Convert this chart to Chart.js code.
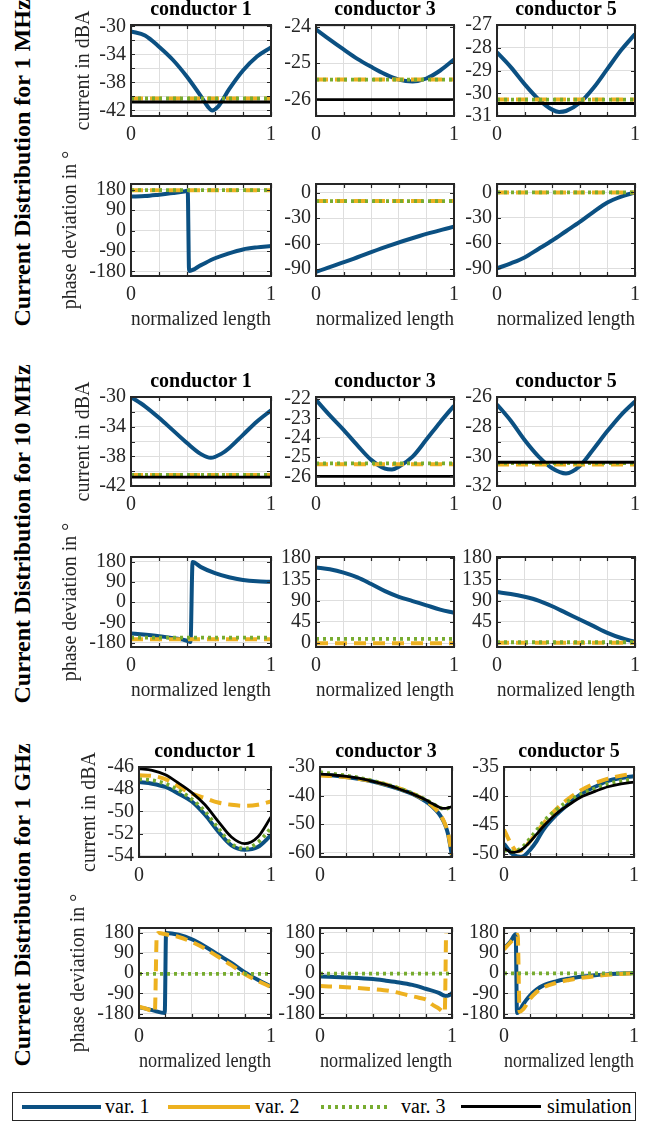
<!DOCTYPE html>
<html>
<head>
<meta charset="utf-8">
<script src="https://cdn.jsdelivr.net/npm/chart.js@4.4.1/dist/chart.umd.min.js"></script>
<style>
  body { margin: 0; width: 670px; height: 1122px; position: relative; overflow: hidden; background: #fff;
         font-family: 'Liberation Serif', 'Times New Roman', serif; color: #262626; }
  canvas { position: absolute; }
  .group-title { position: absolute; font-size: 24px; font-weight: bold; color: #000; white-space: nowrap;
                 transform: translate(-50%, -50%) rotate(-90deg); }
  #legend { position: absolute; left: 12px; top: 1092px; width: 622px; height: 27px; border: 1px solid #262626; }
  #legend .ln { position: absolute; top: 12px; height: 4px; }
  #legend .tx { position: absolute; top: 1px; font-size: 20px; line-height: 24px; color: #000; }
</style>
</head>
<body>

<div class="group-title" style="left:22px; top:163px;">Current Distribution for 1 MHz</div>
<div class="group-title" style="left:22px; top:534px;">Current Distribution for 10 MHz</div>
<div class="group-title" style="left:22px; top:905px;">Current Distribution for 1 GHz</div>

<div id="legend">
  <div class="ln" style="left:9px; width:79px; background:#0b5082;"></div>
  <div class="tx" style="left:92px;">var. 1</div>
  <div class="ln" style="left:155px; width:82px; background:#edb120;"></div>
  <div class="tx" style="left:242px;">var. 2</div>
  <div class="ln" style="left:308px; width:70px; background:repeating-linear-gradient(90deg,#77ac30 0 3px,transparent 3px 7px);"></div>
  <div class="tx" style="left:388px;">var. 3</div>
  <div class="ln" style="left:448px; width:80px; height:3px; background:#000;"></div>
  <div class="tx" style="left:534px;">simulation</div>
</div>

<script>
// normalized length samples shared by most curves
const xs = [0, 0.1, 0.2, 0.3, 0.4, 0.5, 0.6, 0.7, 0.8, 0.9, 1];
const xFlat = [0, 1];
const xTicks = [0, 0.2, 0.4, 0.6, 0.8, 1];
const xTickLabels = [0, 1];

// ---------- 1 MHz ----------
const f1c1MagX = [0, .1, .2, .3, .4, .5, .55, .58, .62, .7, .8, .9, 1];
const f1c1MagVar1 = [-30.7, -31.3, -32.9, -34.8, -37.2, -40.0, -41.5, -42.0, -41.5, -39.0, -36.3, -34.3, -33.0];
const f1c1MagVar2 = [-40.3, -40.3];
const f1c1MagVar3 = [-40.3, -40.3];
const f1c1MagSim = [-40.8, -40.8];

const f1c3MagVar1 = [-24.07, -24.35, -24.62, -24.88, -25.1, -25.3, -25.45, -25.5, -25.42, -25.2, -24.9];
const f1c3MagVar2 = [-25.45, -25.45];
const f1c3MagVar3 = [-25.45, -25.45];
const f1c3MagSim = [-26.0, -26.0];

const f1c5MagX = [0, .1, .2, .3, .4, .45, .5, .6, .7, .8, .9, 1];
const f1c5MagVar1 = [-28.2, -28.85, -29.6, -30.26, -30.72, -30.82, -30.78, -30.42, -29.76, -28.93, -28.1, -27.4];
const f1c5MagVar2 = [-30.28, -30.28];
const f1c5MagVar3 = [-30.28, -30.28];
const f1c5MagSim = [-30.45, -30.45];

const f1c1PhX = [0, .1, .2, .3, .38, .405, .415, .5, .6, .7, .8, .9, 1];
const f1c1PhVar1 = [150, 152, 158, 165, 172, 176, -178, -152, -122, -100, -83, -74, -68];
const f1c1PhVar2 = [178, 178];
const f1c1PhVar3 = [178, 178];

const f1c3PhX = [0, .25, .5, .75, 1];
const f1c3PhVar1 = [-93, -79, -64, -51, -40];
const f1c3PhVar2 = [-10, -10];
const f1c3PhVar3 = [-10, -10];

const f1c5PhVar1 = [-90, -84, -77, -67, -57, -46, -35, -23, -12, -5, 0];
const f1c5PhVar2 = [0, 0];
const f1c5PhVar3 = [0, 0];

// ---------- 10 MHz ----------
const f2c1MagX = [0, .1, .2, .3, .4, .5, .57, .65, .7, .8, .9, 1];
const f2c1MagVar1 = [-30.0, -31.25, -32.8, -34.5, -36.2, -37.7, -38.2, -37.6, -36.9, -35.1, -33.3, -31.8];
const f2c1MagVar2 = [-40.5, -40.5];
const f2c1MagVar3 = [-40.5, -40.5];
const f2c1MagSim = [-40.8, -40.8];

const f2c3MagX = [0, .1, .2, .3, .4, .5, .55, .6, .7, .8, .9, 1];
const f2c3MagVar1 = [-22.05, -22.85, -23.6, -24.4, -25.15, -25.6, -25.65, -25.5, -24.98, -24.1, -23.2, -22.35];
const f2c3MagVar2 = [-25.38, -25.38];
const f2c3MagVar3 = [-25.33, -25.33];
const f2c3MagSim = [-26.0, -26.0];

const f2c5MagVar1 = [-26.5, -27.6, -28.9, -30.0, -30.8, -31.15, -30.65, -29.5, -28.3, -27.2, -26.3];
const f2c5MagVar2 = [-30.55, -30.55];
const f2c5MagVar3 = [-30.45, -30.45];
const f2c5MagSim = [-30.4, -30.4];

const f2c1PhX = [0, .2, .4, .425, .44, .5, .6, .7, .8, .9, 1];
const f2c1PhVar1 = [-140, -152, -172, -178, 178, 155, 128, 110, 98, 92, 90];
const f2c1PhVar2 = [-165, -165];
const f2c1PhVar3 = [-158, -158];

const f2c3PhVar1 = [160, 156, 149, 139, 125, 110, 98, 89, 80, 71, 64];
const f2c3PhVar2 = [0, 0];
const f2c3PhVar3 = [9, 9];

const f2c5PhVar1 = [108, 104, 98, 90, 78, 64, 50, 36, 22, 11, 3];
const f2c5PhVar2 = [1, 1];
const f2c5PhVar3 = [2, 2];

// ---------- 1 GHz ----------
const f3c1MagVar1 = [-47.35, -47.5, -47.8, -48.4, -49.1, -50.3, -51.8, -53.05, -53.45, -53.2, -52.15];
const f3c1MagVar2 = [-46.75, -46.8, -47.1, -47.75, -48.4, -48.8, -49.2, -49.4, -49.5, -49.4, -49.1];
const f3c1MagVar3 = [-47.1, -47.2, -47.5, -48.1, -48.9, -50.0, -51.5, -52.9, -53.35, -52.8, -51.5];
const f3c1MagSim = [-46.15, -46.3, -46.7, -47.45, -48.3, -49.4, -50.9, -52.3, -52.9, -52.3, -50.5];

const f3c3MagX = [0, .1, .2, .3, .4, .5, .6, .7, .8, .85, .9, .93, .95, .97, .99, 1];
const f3c3MagVar1 = [-32.7, -33.0, -33.5, -34.2, -35.1, -36.3, -37.7, -39.4, -42.0, -43.8, -46.3, -48.5, -50.5, -53.5, -58.5, -61.3];
const f3c3MagVar2 = [-33.0, -33.2, -33.6, -34.2, -35.0, -36.1, -37.5, -39.2, -41.8, -43.6, -46.0, -48.2, -50.3, -53.2, -58.0, -60.8];
const f3c3MagVar3 = [-31.8, -32.4, -33.0, -33.8, -34.8, -36.0, -37.5, -39.2, -41.4, -42.7, -44.0, -44.6, -44.6, -44.4, -44.1, -44.0];
const f3c3MagSim = [-32.5, -32.8, -33.3, -34.0, -35.0, -36.2, -37.7, -39.4, -41.5, -42.8, -44.0, -44.5, -44.5, -44.3, -44.0, -43.9];

const f3c5MagX = [0, .03, .06, .1, .13, .16, .2, .25, .3, .4, .5, .6, .7, .8, .9, 1];
const f3c5MagVar1 = [-48.2, -49.1, -49.9, -50.4, -50.5, -50.2, -49.3, -47.8, -45.9, -43.3, -41.3, -39.5, -38.4, -37.4, -36.9, -36.6];
const f3c5MagVar2 = [-45.8, -47.2, -48.5, -49.5, -49.4, -48.8, -47.8, -46.3, -44.8, -42.3, -40.4, -38.9, -37.8, -37.0, -36.5, -36.1];
const f3c5MagVar3 = [-49.3, -49.5, -49.6, -49.4, -49.0, -48.4, -47.3, -45.9, -44.5, -42.4, -40.8, -39.6, -38.7, -37.9, -37.4, -37.1];
const f3c5MagSim = [-49.0, -49.4, -49.7, -49.6, -49.3, -48.8, -47.9, -46.6, -45.3, -43.1, -41.5, -40.1, -39.2, -38.4, -37.9, -37.6];

const f3c1PhVar1X = [0, .1, .195, .205, .3, .4, .5, .6, .7, .8, .9, 1];
const f3c1PhVar1 = [-152, -165, -178, 178, 170, 150, 118, 81, 45, 4, -30, -60];
const f3c1PhVar2X = [0, .06, .12, .135, .15, .2, .3, .4, .5, .6, .7, .8, .9, 1];
const f3c1PhVar2 = [-150, -160, -172, 172, 178, 172, 160, 138, 108, 72, 35, -5, -35, -62];
const f3c1PhVar3 = [-4, -4];

const f3c3PhVar1X = [0, .2, .4, .5, .6, .7, .8, .9, .95, .975, 1];
const f3c3PhVar1 = [-15, -20, -27, -34, -42, -53, -70, -88, -102, -100, -90];
const f3c3PhVar2X = [0, .2, .4, .55, .66, .75, .81, .85, .9, .945, .955];
const f3c3PhVar2 = [-58, -63, -72, -82, -98, -110, -120, -140, -158, -175, 178];
const f3c3PhVar3 = [-3, -3];

const f3c5PhVar1X = [0, .05, .09, .1, .15, .2, .25, .3, .4, .5, .6, .7, .8, .9, 1];
const f3c5PhVar1 = [110, 140, 172, -178, -137, -100, -74, -56, -37, -25, -16, -10, -5, -2, 0];
const f3c5PhVar2X = [0, .04, .08, .105, .12, .15, .2, .25, .3, .4, .5, .6, .7, .8, .9, 1];
const f3c5PhVar2 = [105, 130, 155, 170, -172, -160, -115, -85, -65, -44, -31, -21, -14, -8, -4, -2];
const f3c5PhVar3 = [-2, -2];

// y tick values and which of them carry a label
const phaseTicks = [-180, -90, 0, 90, 180];
const negPhaseTicks = [-90, -60, -30, 0];
const posPhaseTicks = [0, 45, 90, 135, 180];

const pts = (xv, yv) => xv.map((x, i) => ({ x, y: yv[i] }));

const styles = {
  var1: { borderColor: '#0b5082', borderWidth: 4, order: 4 },
  var2: { borderColor: '#edb120', borderWidth: 4, borderDash: [12, 7], order: 3 },
  var3: { borderColor: '#77ac30', borderWidth: 3.8, borderDash: [3, 4], order: 2 },
  sim:  { borderColor: '#000000', borderWidth: 2.8, order: 1 }
};

// box frame and inward tick marks on all four sides
const boxFrame = {
  id: 'boxFrame',
  afterDatasetsDraw(chart) {
    const { ctx, chartArea: a, scales } = chart;
    ctx.save();
    ctx.strokeStyle = '#262626';
    ctx.lineWidth = 1.2;
    ctx.beginPath();
    scales.x.ticks.forEach(t => {
      const px = Math.round(scales.x.getPixelForValue(t.value)) + 0.5;
      ctx.moveTo(px, a.bottom); ctx.lineTo(px, a.bottom - 4);
      ctx.moveTo(px, a.top); ctx.lineTo(px, a.top + 4);
    });
    scales.y.ticks.forEach(t => {
      const py = Math.round(scales.y.getPixelForValue(t.value)) + 0.5;
      ctx.moveTo(a.left, py); ctx.lineTo(a.left + 4, py);
      ctx.moveTo(a.right, py); ctx.lineTo(a.right - 4, py);
    });
    ctx.stroke();
    ctx.lineWidth = 2;
    ctx.strokeRect(a.left, a.top, a.right - a.left, a.bottom - a.top);
    ctx.restore();
  }
};

Chart.defaults.font.family = "'Liberation Serif', 'Times New Roman', serif";
Chart.defaults.font.size = 20;
Chart.defaults.color = '#262626';

function addPlot(p) {
  const [bx, by, bw, bh] = p.box;
  const titleH = p.title ? 27 : 0;
  const topM = 44;
  const xH = p.xTitle ? 58 : 34;
  const rightM = 12;
  const yW = p.yTitleX ? bx - (p.yTitleX - 12) : 56;

  const cv = document.createElement('canvas');
  cv.width = yW + bw + rightM;
  cv.height = topM + bh + xH;
  cv.style.left = (bx - yW) + 'px';
  cv.style.top = (by - topM) + 'px';
  document.body.appendChild(cv);

  const datasets = Object.keys(p.series).map(k => Object.assign({
    data: pts(p.series[k][0], p.series[k][1]),
    fill: false,
    pointRadius: 0,
    cubicInterpolationMode: 'monotone',
    borderCapStyle: 'butt'
  }, styles[k]));

  new Chart(cv, {
    type: 'line',
    data: { datasets },
    options: {
      responsive: false,
      animation: false,
      devicePixelRatio: 1,
      layout: { padding: { top: topM - titleH, right: rightM, left: 0, bottom: 0 } },
      plugins: {
        legend: { display: false },
        tooltip: { enabled: false },
        title: {
          display: !!p.title, text: p.title, fullSize: false, color: '#000',
          font: { size: 20, weight: 'bold' }, padding: { top: 0, bottom: 3 }
        }
      },
      scales: {
        x: {
          type: 'linear', min: 0, max: 1,
          afterBuildTicks: s => { s.ticks = xTicks.map(v => ({ value: v })); },
          afterFit: s => { s.height = xH; },
          grid: { color: '#dedede', drawTicks: false },
          border: { display: false },
          ticks: { padding: 7, autoSkip: false, maxRotation: 0,
                   callback: v => xTickLabels.includes(v) ? String(v) : '' },
          title: p.xTitle
            ? { display: true, text: p.xTitle, color: '#262626', font: { size: 20 }, padding: { top: 0, bottom: 2 } }
            : { display: false }
        },
        y: {
          type: 'linear', min: p.yRange[0], max: p.yRange[1],
          afterBuildTicks: s => { s.ticks = p.yTicks.map(v => ({ value: v })); },
          afterFit: s => { s.width = yW; },
          grid: { color: '#dedede', drawTicks: false },
          border: { display: false },
          ticks: { padding: 5, autoSkip: false,
                   callback: v => (p.yLabels || p.yTicks).includes(v) ? String(v) : '' },
          title: p.yTitle
            ? { display: true, text: p.yTitle, color: '#262626', font: { size: 20 }, padding: 0 }
            : { display: false }
        }
      }
    },
    plugins: [boxFrame]
  });
}

const MAG = 'current in dBA';
const PH = 'phase deviation in °';
const XL = 'normalized length';

const plots = [
  // 1 MHz
  { box: [131, 25, 140, 91], title: 'conductor 1', yTitle: MAG, yTitleX: 84,
    yRange: [-42.8, -29.8], yTicks: [-42, -40, -38, -36, -34, -32, -30], yLabels: [-42, -38, -34, -30],
    series: { var1: [f1c1MagX, f1c1MagVar1], var2: [xFlat, f1c1MagVar2], var3: [xFlat, f1c1MagVar3], sim: [xFlat, f1c1MagSim] } },
  { box: [316, 25, 138, 91], title: 'conductor 3',
    yRange: [-26.45, -23.95], yTicks: [-26, -25, -24],
    series: { var1: [xs, f1c3MagVar1], var2: [xFlat, f1c3MagVar2], var3: [xFlat, f1c3MagVar3], sim: [xFlat, f1c3MagSim] } },
  { box: [497, 25, 138, 91], title: 'conductor 5',
    yRange: [-31, -27], yTicks: [-31, -30, -29, -28, -27],
    series: { var1: [f1c5MagX, f1c5MagVar1], var2: [xFlat, f1c5MagVar2], var3: [xFlat, f1c5MagVar3], sim: [xFlat, f1c5MagSim] } },
  { box: [131, 184, 140, 92], yTitle: PH, yTitleX: 71, xTitle: XL,
    yRange: [-200, 205], yTicks: phaseTicks,
    series: { var1: [f1c1PhX, f1c1PhVar1], var2: [xFlat, f1c1PhVar2], var3: [xFlat, f1c1PhVar3] } },
  { box: [316, 184, 138, 92], xTitle: XL,
    yRange: [-98, 10], yTicks: negPhaseTicks,
    series: { var1: [f1c3PhX, f1c3PhVar1], var2: [xFlat, f1c3PhVar2], var3: [xFlat, f1c3PhVar3] } },
  { box: [497, 184, 138, 92], xTitle: XL,
    yRange: [-99, 10], yTicks: negPhaseTicks,
    series: { var1: [xs, f1c5PhVar1], var2: [xFlat, f1c5PhVar2], var3: [xFlat, f1c5PhVar3] } },

  // 10 MHz
  { box: [131, 397, 140, 89], title: 'conductor 1', yTitle: MAG, yTitleX: 84,
    yRange: [-42, -30], yTicks: [-42, -40, -38, -36, -34, -32, -30], yLabels: [-42, -38, -34, -30],
    series: { var1: [f2c1MagX, f2c1MagVar1], var2: [xFlat, f2c1MagVar2], var3: [xFlat, f2c1MagVar3], sim: [xFlat, f2c1MagSim] } },
  { box: [316, 397, 138, 89], title: 'conductor 3',
    yRange: [-26.5, -21.9], yTicks: [-26, -25, -24, -23, -22],
    series: { var1: [f2c3MagX, f2c3MagVar1], var2: [xFlat, f2c3MagVar2], var3: [xFlat, f2c3MagVar3], sim: [xFlat, f2c3MagSim] } },
  { box: [497, 397, 138, 89], title: 'conductor 5',
    yRange: [-32, -26], yTicks: [-32, -31, -30, -29, -28, -27, -26], yLabels: [-32, -30, -28, -26],
    series: { var1: [xs, f2c5MagVar1], var2: [xFlat, f2c5MagVar2], var3: [xFlat, f2c5MagVar3], sim: [xFlat, f2c5MagSim] } },
  { box: [131, 557, 140, 90], yTitle: PH, yTitleX: 71, xTitle: XL,
    yRange: [-200, 200], yTicks: phaseTicks,
    series: { var1: [f2c1PhX, f2c1PhVar1], var2: [xFlat, f2c1PhVar2], var3: [xFlat, f2c1PhVar3] } },
  { box: [316, 557, 138, 90], xTitle: XL,
    yRange: [-8, 182], yTicks: posPhaseTicks,
    series: { var1: [xs, f2c3PhVar1], var2: [xFlat, f2c3PhVar2], var3: [xFlat, f2c3PhVar3] } },
  { box: [497, 557, 138, 90], xTitle: XL,
    yRange: [-8, 182], yTicks: posPhaseTicks,
    series: { var1: [xs, f2c5PhVar1], var2: [xFlat, f2c5PhVar2], var3: [xFlat, f2c5PhVar3] } },

  // 1 GHz
  { box: [139, 767, 132, 90], title: 'conductor 1', yTitle: MAG, yTitleX: 90,
    yRange: [-54.1, -46], yTicks: [-54, -52, -50, -48, -46],
    series: { var1: [xs, f3c1MagVar1], var2: [xs, f3c1MagVar2], var3: [xs, f3c1MagVar3], sim: [xs, f3c1MagSim] } },
  { box: [320, 767, 132, 90], title: 'conductor 3',
    yRange: [-61.5, -30], yTicks: [-60, -50, -40, -30],
    series: { var1: [f3c3MagX, f3c3MagVar1], var2: [f3c3MagX, f3c3MagVar2], var3: [f3c3MagX, f3c3MagVar3], sim: [f3c3MagX, f3c3MagSim] } },
  { box: [504, 767, 130, 90], title: 'conductor 5',
    yRange: [-50.5, -35], yTicks: [-50, -45, -40, -35],
    series: { var1: [f3c5MagX, f3c5MagVar1], var2: [f3c5MagX, f3c5MagVar2], var3: [f3c5MagX, f3c5MagVar3], sim: [f3c5MagX, f3c5MagSim] } },
  { box: [139, 928, 132, 90], yTitle: PH, yTitleX: 79, xTitle: XL,
    yRange: [-200, 200], yTicks: phaseTicks,
    series: { var1: [f3c1PhVar1X, f3c1PhVar1], var2: [f3c1PhVar2X, f3c1PhVar2], var3: [xFlat, f3c1PhVar3] } },
  { box: [320, 928, 132, 90], xTitle: XL,
    yRange: [-200, 200], yTicks: phaseTicks,
    series: { var1: [f3c3PhVar1X, f3c3PhVar1], var2: [f3c3PhVar2X, f3c3PhVar2], var3: [xFlat, f3c3PhVar3] } },
  { box: [504, 928, 130, 90], xTitle: XL,
    yRange: [-200, 200], yTicks: phaseTicks,
    series: { var1: [f3c5PhVar1X, f3c5PhVar1], var2: [f3c5PhVar2X, f3c5PhVar2], var3: [xFlat, f3c5PhVar3] } }
];

plots.forEach(addPlot);
</script>
</body>
</html>
